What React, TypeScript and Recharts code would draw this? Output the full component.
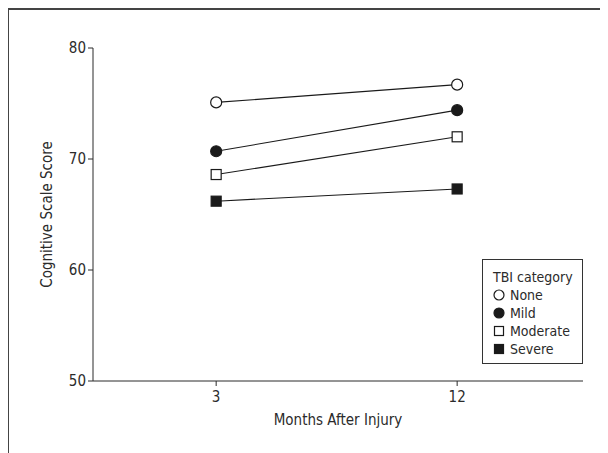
import React from 'react';
import { LineChart, Line, XAxis, YAxis, Legend } from 'recharts';

const months = [3, 12];
const seriesNames = ['None', 'Mild', 'Moderate', 'Severe'];
const none = [75.1, 76.7];
const mild = [70.7, 74.4];
const moderate = [68.6, 72.0];
const severe = [66.2, 67.3];
const yTicks = [50, 60, 70, 80];

const FONT = "'DejaVu Sans Condensed', 'Liberation Sans Narrow', sans-serif";
const INK = '#2b2b2b';

// marker shape per category
const SHAPES: Record<string, { kind: 'circle' | 'square'; filled: boolean }> = {
    None: { kind: 'circle', filled: false },
    Mild: { kind: 'circle', filled: true },
    Moderate: { kind: 'square', filled: false },
    Severe: { kind: 'square', filled: true },
};

const Marker = ({ cx, cy, name, size = 11 }: { cx: number; cy: number; name: string; size?: number }) => {
    const s = SHAPES[name];
    const fill = s.filled ? '#1a1a1a' : '#fff';
    if (s.kind === 'circle') {
        return <circle cx={cx} cy={cy} r={size / 2} fill={fill} stroke="#1a1a1a" strokeWidth={1.2} />;
    }
    const side = size - 1;
    return <rect x={cx - side / 2} y={cy - side / 2} width={side} height={side} fill={fill} stroke="#1a1a1a" strokeWidth={1.2} />;
};

const data = months.map((m, i) => ({
    month: m,
    None: none[i],
    Mild: mild[i],
    Moderate: moderate[i],
    Severe: severe[i],
}));

const LegendBox = () => (
    <div
        style={{
            border: '1.5px solid #333',
            background: '#fff',
            boxSizing: 'border-box',
            width: 101,
            height: 105,
            padding: '8px 0 0 10px',
            fontFamily: FONT,
            fontSize: 14,
            color: INK,
            lineHeight: '18px',
        }}
    >
        <div>TBI category</div>
        {seriesNames.map((n) => (
            <div key={n} style={{ display: 'flex', alignItems: 'center' }}>
                <svg width={14} height={14} style={{ marginRight: 3 }}>
                    <Marker cx={6} cy={7} name={n} size={10} />
                </svg>
                <span>{n}</span>
            </div>
        ))}
    </div>
);

const App: React.FC = () => {
    return (
        <div style={{ borderTop: '2px solid #444', borderLeft: '2px solid #444', marginLeft: -1, width: 599, height: 443 }}>
            <LineChart
                width={599}
                height={443}
                data={data}
                margin={{ top: 38, right: 25, bottom: 22, left: 0 }}
                style={{ fontFamily: FONT }}
            >
                <XAxis
                    dataKey="month"
                    type="number"
                    domain={[-1.6, 16.7]}
                    ticks={months}
                    height={50}
                    stroke={INK}
                    tickSize={5}
                    tick={{ fill: INK, fontSize: 15, dy: 3 }}
                    label={{ value: 'Months After Injury', position: 'insideBottom', offset: 6, fill: INK, fontSize: 15 }}
                />
                <YAxis
                    domain={[50, 80]}
                    ticks={yTicks}
                    width={84}
                    stroke={INK}
                    tickSize={5}
                    tick={{ fill: INK, fontSize: 15 }}
                    label={{ value: 'Cognitive Scale Score', angle: -90, position: 'insideLeft', offset: 38, fill: INK, fontSize: 15, style: { textAnchor: 'middle' } }}
                />
                <Legend
                    layout="vertical"
                    align="center"
                    verticalAlign="middle"
                    content={<LegendBox />}
                    wrapperStyle={{ left: 473, top: 249, width: 101, height: 105 }}
                />
                {seriesNames.map((n) => (
                    <Line
                        key={n}
                        dataKey={n}
                        stroke="#1a1a1a"
                        strokeWidth={1.1}
                        isAnimationActive={false}
                        dot={(p: any) => <Marker key={`${n}-${p.index}`} cx={p.cx} cy={p.cy} name={n} />}
                        activeDot={false}
                    />
                ))}
            </LineChart>
        </div>
    );
};

export default App;
